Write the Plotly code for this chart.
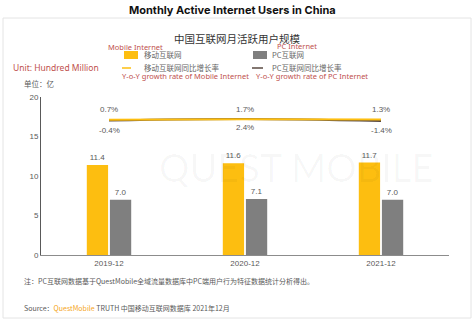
import plotly.graph_objects as go

categories = ["2019-12", "2020-12", "2021-12"]
mobile_users = [11.4, 11.6, 11.7]
pc_users = [7.0, 7.1, 7.0]
mobile_growth = [0.7, 1.7, 1.3]
pc_growth = [-0.4, 2.4, -1.4]
y_ticks = [0, 5, 10, 15, 20]

W, H = 474, 322
L, R, T, B = 41, 25, 97, 67
PW, PH = W - L - R, H - T - B

def px(x):
    return (x - L) / PW

def py(y):
    return (H - B - y) / PH

YELLOW = "#FDBE10"
GRAY = "#7F7F7F"
DARK = "#5A4A42"
RED = "#C0504D"
TXT = "#595959"
CJK = "Noto Sans CJK SC"

fig = go.Figure()
fig.add_trace(go.Bar(x=categories, y=mobile_users, name="移动互联网",
                     marker=dict(color=YELLOW, line=dict(width=0)),
                     text=[f"{v:.1f}" for v in mobile_users], textposition="outside",
                     textfont=dict(size=8, color=TXT, family="Liberation Sans"),
                     cliponaxis=False))
fig.add_trace(go.Bar(x=categories, y=pc_users, name="PC互联网",
                     marker=dict(color=GRAY, line=dict(width=0)),
                     text=[f"{v:.1f}" for v in pc_users], textposition="outside",
                     textfont=dict(size=8, color=TXT, family="Liberation Sans"),
                     cliponaxis=False))
fig.add_trace(go.Scatter(x=categories, y=pc_growth, yaxis="y2", mode="lines",
                         line=dict(color=DARK, width=2, shape="spline")))
fig.add_trace(go.Scatter(x=categories, y=mobile_growth, yaxis="y2", mode="lines",
                         line=dict(color=YELLOW, width=2, shape="spline")))

ann = []
for c, v in zip(categories, mobile_growth):
    ann.append(dict(x=c, y=v, xref="x", yref="y2", text=f"{v:.1f}%", showarrow=False,
                    yshift=10, font=dict(size=8, color=TXT, family="Liberation Sans")))
for c, v in zip(categories, pc_growth):
    ann.append(dict(x=c, y=v, xref="x", yref="y2", text=f"{v:.1f}%", showarrow=False,
                    yshift=-9 if v > 0 else -10, font=dict(size=8, color=TXT, family="Liberation Sans")))

def A(x, y, text, size, color, family=CJK, xanchor="center", **kw):
    ann.append(dict(x=px(x), y=py(y), xref="paper", yref="paper", text=text,
                    showarrow=False, xanchor=xanchor, yanchor="middle",
                    font=dict(size=size, color=color, family=family), **kw))

A(232, 10, "<b>Monthly Active Internet Users in China</b>", 11, "#111111", family="Inter")
A(237, 38, "中国互联网月活跃用户规模", 10.5, "#333333")
A(135, 47, "Mobile Internet", 7.5, RED, family="Noto Sans")
A(297, 46, "PC Internet", 7.5, RED, family="Noto Sans")
A(142, 55, "移动互联网", 7.5, "#666666", xanchor="left")
A(270, 55, "PC互联网", 7.5, "#666666", xanchor="left")
A(142, 68, "移动互联网同比增长率", 7.5, "#666666", xanchor="left")
A(270, 68, "PC互联网同比增长率", 7.5, "#666666", xanchor="left")
A(120, 76, "Y-o-Y growth rate of Mobile Internet", 7.5, RED, family="Noto Sans", xanchor="left")
A(254, 76, "Y-o-Y growth rate of PC Internet", 7.5, RED, family="Noto Sans", xanchor="left")
A(11, 68, "Unit: Hundred Million", 8.5, RED, family="Noto Sans", xanchor="left")
A(22, 83, "单位：亿", 7.5, TXT, xanchor="left")
A(22, 281, "注：PC互联网数据基于QuestMobile全域流量数据库中PC端用户行为特征数据统计分析得出。", 7, TXT, xanchor="left")
A(22, 308, "Source：<span style='color:#F5A623'>QuestMobile</span> TRUTH 中国移动互联网数据库 2021年12月", 7, TXT, xanchor="left")
A(296, 167, "QUEST MOBILE", 38, "rgba(0,0,0,0.03)", family="Lato")

shapes = [
    dict(type="rect", xref="paper", yref="paper", x0=px(3), x1=px(471), y0=py(318), y1=py(18),
         line=dict(color="#E4E4E4", width=1), fillcolor="rgba(0,0,0,0)", layer="below"),
    dict(type="rect", xref="paper", yref="paper", x0=px(124), x1=px(138), y0=py(59), y1=py(51),
         line=dict(width=0), fillcolor=YELLOW),
    dict(type="rect", xref="paper", yref="paper", x0=px(253), x1=px(267), y0=py(59), y1=py(51),
         line=dict(width=0), fillcolor=GRAY),
    dict(type="line", xref="paper", yref="paper", x0=px(122), x1=px(131), y0=py(68), y1=py(68),
         line=dict(color=YELLOW, width=1.5)),
    dict(type="line", xref="paper", yref="paper", x0=px(252), x1=px(263), y0=py(68), y1=py(68),
         line=dict(color=DARK, width=1.5)),
]

fig.update_layout(
    width=W, height=H, margin=dict(l=L, r=R, t=T, b=B),
    paper_bgcolor="white", plot_bgcolor="rgba(0,0,0,0)",
    showlegend=False, barmode="group", bargap=0.66, bargroupgap=0.08,
    annotations=ann, shapes=shapes,
    xaxis=dict(type="category", range=[-0.5, 2.5], showline=True, linecolor="#8C8C8C", linewidth=1,
               ticks="", showgrid=False, tickfont=dict(size=8, color=TXT, family="Liberation Sans")),
    yaxis=dict(range=[0, 20], tickvals=y_ticks, showline=True, linecolor="#595959", linewidth=1,
               showgrid=False, zeroline=False, ticks="",
               tickfont=dict(size=8, color=TXT, family="Liberation Sans")),
    yaxis2=dict(range=[-256, 44], overlaying="y", visible=False),
)

fig.write_html("out.html")
